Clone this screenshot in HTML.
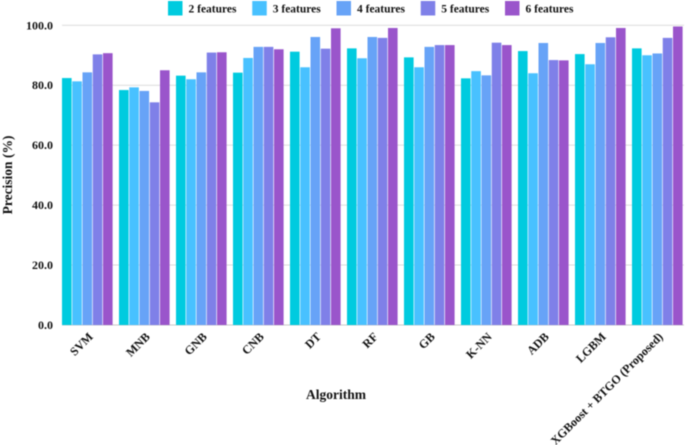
<!DOCTYPE html>
<html>
<head>
<meta charset="utf-8">
<style>
html,body{margin:0;padding:0;background:#fff;width:685px;height:445px;overflow:hidden}
svg{display:block;filter:blur(0.5px)}
text{font-family:"Liberation Serif",serif;font-weight:bold;fill:#111}
</style>
</head>
<body>
<svg id="chart" width="685" height="445" viewBox="0 0 685 445" xmlns="http://www.w3.org/2000/svg">
<g id="grid"></g>
<g id="bars"></g>
<g id="yticks"></g>
<g id="xticks"></g>
<g id="legend"></g>
<text transform="translate(12,175) rotate(-90)" text-anchor="middle" font-size="13.5">Precision (%)</text>
<text x="336" y="399" text-anchor="middle" font-size="13.5">Algorithm</text>
</svg>
<script>
const categories = ["SVM","MNB","GNB","CNB","DT","RF","GB","K-NN","ADB","LGBM","XGBoost + BTGO (Proposed)"];
const seriesNames = ["2 features","3 features","4 features","5 features","6 features"];
const features2 = [82.4,78.4,83.2,84.2,91.2,92.3,89.3,82.3,91.4,90.4,92.3];
const features3 = [81.3,79.3,82.0,89.1,86.0,89.0,86.0,84.7,84.0,87.0,90.0];
const features4 = [84.3,78.1,84.3,92.8,96.1,96.1,92.8,83.3,94.1,94.1,90.6];
const features5 = [90.3,74.3,90.9,92.8,92.2,95.8,93.4,94.2,88.4,96.0,95.8];
const features6 = [90.7,85.0,91.0,92.0,99.0,99.1,93.4,93.4,88.3,99.1,99.6];
const yTicks = [0,20,40,60,80,100];

const allSeries = [features2,features3,features4,features5,features6];
const colors = ["#00cbdf","#48c1ff","#67a3f7","#7f80e8","#9a55cb"];
const NS = "http://www.w3.org/2000/svg";
const plotLeft = 62, plotRight = 684, plotTop = 25.3, plotBottom = 325;
const groupStep = (plotRight - plotLeft + 5) / categories.length;
const barStep = 10.25, barWidth = 9.6;

function yScale(v){ return plotBottom - (v / 100) * (plotBottom - plotTop); }
function groupX(i){ return plotLeft + i * groupStep; }
function make(tag, attrs, parent){
  const el = document.createElementNS(NS, tag);
  for (const k in attrs) el.setAttribute(k, attrs[k]);
  parent.appendChild(el);
  return el;
}

const gridG = document.getElementById("grid");
const yG = document.getElementById("yticks");
yTicks.forEach(function(t){
  const line = make("line", {x1:plotLeft, x2:plotRight, y1:yScale(t), y2:yScale(t), stroke:t===0?"#c8c8c8":"#dcdcdc", "stroke-width":1}, gridG);
  
  
  const label = make("text", {x:53, y:yScale(t)+4, "text-anchor":"end", "font-size":12}, yG);
  
  
  label.textContent = t.toFixed(1);
});

const barsG = document.getElementById("bars");
allSeries.forEach(function(values, s){
  values.forEach(function(v, i){
    const rect = make("rect", {x:groupX(i) + s * barStep, y:yScale(v), width:barWidth, height:yScale(0) - yScale(v), fill:colors[s]}, barsG);
    
    
  });
});

const xG = document.getElementById("xticks");
categories.forEach(function(c, i){
  const cx = groupX(i) + (barStep * 5) / 2;
  const label = make("text", {transform:"translate(" + (cx + 6) + ",337.5) rotate(-45)", "text-anchor":"end", "font-size":12}, xG);
  
  
  label.textContent = c;
});

const legendG = document.getElementById("legend");
seriesNames.forEach(function(name, s){
  const lx = 168 + s * 84.25;
  const swatch = make("rect", {x:lx, y:1, width:14.5, height:14.5, fill:colors[s]}, legendG);
  
  
  const label = make("text", {x:lx + 20.5, y:12.5, "font-size":11.5}, legendG);
  
  
  label.textContent = name;
});
</script>
</body>
</html>
